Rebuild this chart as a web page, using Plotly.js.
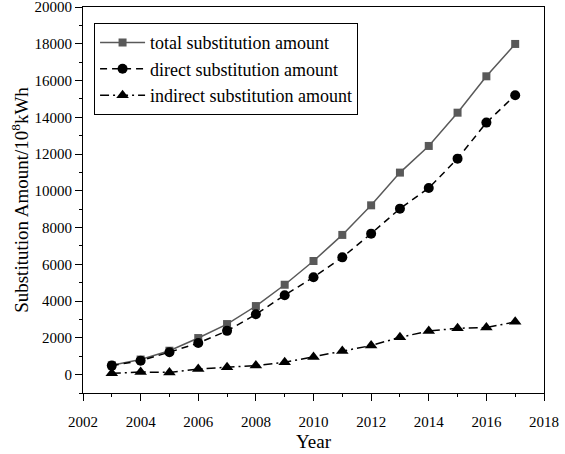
<!DOCTYPE html>
<html><head><meta charset="utf-8">
<script src="https://cdn.plot.ly/plotly-3.0.1.min.js"></script>
<style>html,body{margin:0;padding:0;background:#fff}#chart{width:565px;height:454px}</style>
</head><body><div id="chart"></div>
<script>
var years = [2003,2004,2005,2006,2007,2008,2009,2010,2011,2012,2013,2014,2015,2016,2017];
var totalAmount = [510,820,1300,1990,2750,3730,4890,6180,7600,9210,10990,12440,14250,16230,17990];
var directAmount = [490,760,1220,1720,2380,3280,4320,5300,6380,7670,9030,10150,11750,13710,15200];
var indirectAmount = [70,140,120,300,400,490,670,960,1290,1580,2030,2370,2520,2560,2870];
var seriesNames = ['total substitution amount','direct substitution amount','indirect substitution amount'];
var yTickVals = [0,2000,4000,6000,8000,10000,12000,14000,16000,18000,20000];

var font = 'Liberation Serif';
var traces = [
  {x: years, y: totalAmount, name: seriesNames[0], mode: 'lines+markers',
   line: {color: '#595959', width: 1.5, dash: 'solid'},
   marker: {symbol: 'square', size: 8, color: '#595959'}},
  {x: years, y: directAmount, name: seriesNames[1], mode: 'lines+markers',
   line: {color: '#000', width: 1.5, dash: '7px,5px'},
   marker: {symbol: 'circle', size: 10, color: '#000'}},
  {x: years, y: indirectAmount, name: seriesNames[2], mode: 'lines+markers',
   line: {color: '#000', width: 1.5, dash: '9px,4px,2px,4px'},
   marker: {symbol: 'triangle-up', size: 11, color: '#000'}}
];
var layout = {
  width: 565, height: 454,
  margin: {l: 83, r: 21, t: 7, b: 61},
  paper_bgcolor: '#fff', plot_bgcolor: '#fff',
  font: {family: font, size: 15, color: '#000'},
  showlegend: true,
  legend: {x: 0.024, y: 0.958, xanchor: 'left', yanchor: 'top',
    bordercolor: '#000', borderwidth: 1, bgcolor: '#fff',
    font: {family: font, size: 18, color: '#000'}, tracegroupgap: 0, itemwidth: 45},
  xaxis: {range: [2002, 2018], dtick: 2, tick0: 2002, showgrid: false, zeroline: false,
    tickformat: 'd', ticklabeloverflow: 'allow', ticklabelstandoff: 8,
    ticks: 'outside', ticklen: 7, tickcolor: '#000', showline: true, linecolor: '#000', linewidth: 1,
    mirror: true, tickfont: {family: font, size: 15},
    minor: {dtick: 1, ticks: 'outside', ticklen: 3, tickcolor: '#000'},
    title: {text: 'Year', font: {family: font, size: 19}, standoff: 5}},
  yaxis: {range: [-1000, 20000], tickmode: 'array', tickvals: yTickVals, showgrid: false, zeroline: false,
    tickformat: 'd', ticklabeloverflow: 'allow',
    ticks: 'outside', ticklen: 7, tickcolor: '#000', showline: true, linecolor: '#000', linewidth: 1,
    mirror: true, tickfont: {family: font, size: 15},
    minor: {dtick: 1000, tick0: 0, ticks: 'outside', ticklen: 3, tickcolor: '#000'},
    title: {text: 'Substitution Amount/10<sup>8</sup>kWh', font: {family: font, size: 19}, standoff: 0}}
};
Plotly.newPlot('chart', traces, layout, {displayModeBar: false, staticPlot: true});
</script></body></html>
